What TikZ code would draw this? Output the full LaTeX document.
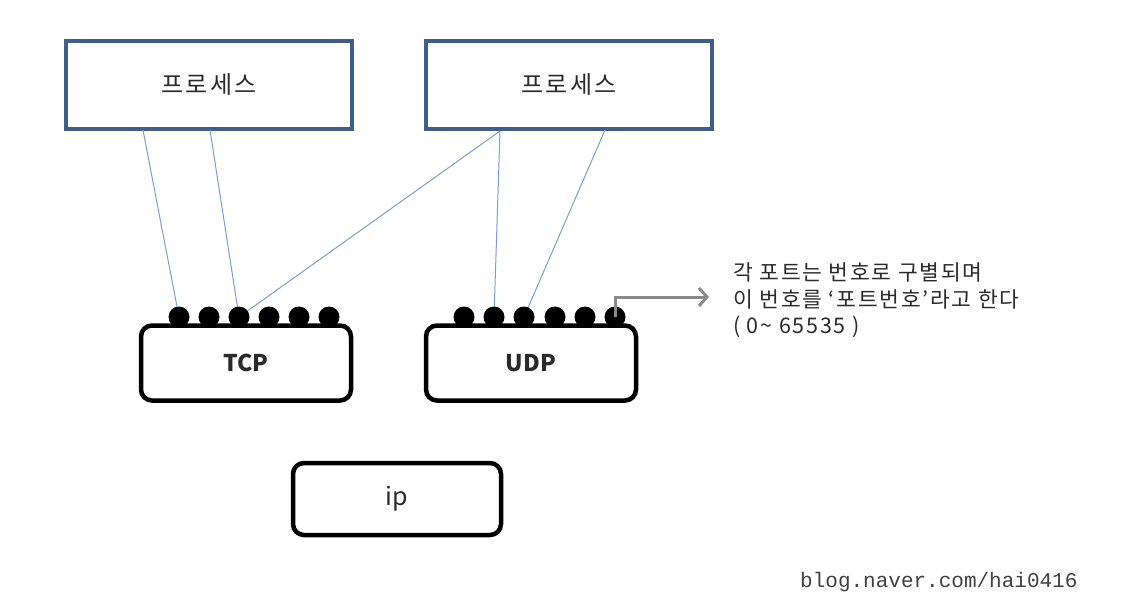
\documentclass[tikz,border=0pt]{standalone}
\usepackage{fontspec}
\setmainfont{Noto Sans CJK KR}
\newfontfamily\spacedkr[LetterSpace=10]{Noto Sans CJK KR}
\newfontfamily\notekr[LetterSpace=8]{Noto Sans CJK KR}
\newfontfamily\wmfont{Liberation Mono}
\usetikzlibrary{arrows.meta}
\definecolor{procblue}{HTML}{3F5E8C}
\definecolor{linkblue}{HTML}{7C9DD1}
\definecolor{txt}{HTML}{2A2A2A}
\definecolor{arrgray}{HTML}{8A8A8A}
\tikzset{
  procbox/.style={draw=procblue, line width=4pt, fill=white, minimum width=286pt, minimum height=88pt, inner sep=0pt, font=\spacedkr\fontsize{24}{26}\selectfont, text=txt},
  protobox/.style={draw=black, line width=4.5pt, rounded corners=11pt, fill=white, inner sep=0pt, font=\fontsize{23}{25}\selectfont, text=txt},
  port/.style={circle, fill=black, minimum size=21pt, inner sep=0pt},
  link/.style={draw=linkblue, line width=1pt},
  note/.style={font=\notekr\fontsize{21.5}{27}\selectfont, text=txt, anchor=base west, inner sep=0pt}
}
\begin{document}
\begin{tikzpicture}[x=1pt,y=-1pt]
\useasboundingbox (0,0) rectangle (1130,614);
% process boxes
\node[procbox] (p1) at (209,85) {프로세스};
\node[procbox] (p2) at (569,85) {프로세스};
% link start coordinates
\coordinate (a1) at (143,130);
\coordinate (a2) at (210,130);
\coordinate (b1) at (500,131);
\coordinate (b2) at (605,130);
% ports
\foreach \i/\x in {1/179,2/209,3/239,4/269,5/299,6/329}{
  \coordinate (tc\i) at (\x,317);
}
\foreach \i/\x in {1/464,2/494,3/524,4/555,5/585,6/615}{
  \coordinate (uc\i) at (\x,317);
}
% links
\draw[link] (a1) -- (tc1);
\draw[link] (a2) -- (tc3);
\draw[link] (b1) -- (tc3);
\draw[link] (b1) -- (uc2);
\draw[link] (b2) -- (uc3);
\foreach \i in {1,...,6}{
  \node[port] (t\i) at (tc\i) {};
  \node[port] (u\i) at (uc\i) {};
}
% protocol boxes
\node[protobox, minimum width=210pt, minimum height=75pt] (tcp) at (246,363) {\textbf{TCP}};
\node[protobox, minimum width=210pt, minimum height=75pt] (udp) at (531,363) {\textbf{UDP}};
\node[protobox, minimum width=208pt, minimum height=72pt, font=\fontsize{25}{27}\selectfont] (ip) at (397,499) {ip};
% note arrow
\coordinate (ae) at (709,297);
\draw[arrgray, line width=3pt, -{Straight Barb[length=8pt,width=18pt]}] (u6.center) |- (ae);
\node[note] (n1) at (733,280) {각 포트는 번호로 구별되며};
\node[note] (n2) at (733,307) {이 번호를 ‘포트번호’라고 한다};
\node[note] (n3) at (733,333) {( 0\char`~{} 65535 )};
% watermark
\node[font=\wmfont\fontsize{21}{23}\selectfont, text=black!75, anchor=west, inner sep=0pt] (wm) at (800,582) {blog.naver.com/hai0416};
\end{tikzpicture}
\end{document}
